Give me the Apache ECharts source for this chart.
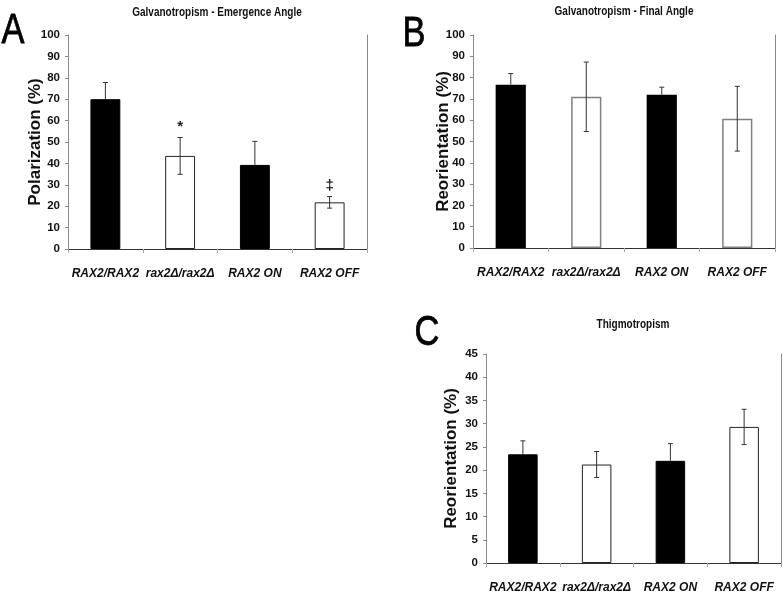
<!DOCTYPE html>
<html>
<head>
<meta charset="utf-8">
<script src="https://cdn.jsdelivr.net/npm/echarts@6/dist/echarts.min.js"></script>
<style>
html,body{margin:0;padding:0;background:#fff;}
#chart{width:783px;height:595px;}
</style>
</head>
<body>
<div id="chart"></div>
<script>
// ---- data ----
const categories = ['RAX2/RAX2', 'rax2\u0394/rax2\u0394', 'RAX2 ON', 'RAX2 OFF'];

const emergenceValues = [70, 43.5, 39.3, 21.8];
const emergenceErrors = [7.8, 8.6, 11, 2.7];
const emergenceMarks = ['', '*', '', '\u2021'];

const finalValues = [76.7, 71, 72, 60.7];
const finalErrors = [5.2, 16.3, 3.5, 15.2];

const thigmoValues = [23.4, 21.2, 22.0, 29.3];
const thigmoErrors = [2.9, 2.8, 3.7, 3.8];

const titles = ['Galvanotropism - Emergence Angle', 'Galvanotropism - Final Angle', 'Thigmotropism'];
const yNames = ['Polarization (%)', 'Reorientation (%)', 'Reorientation (%)'];
const panelLetters = ['A', 'B', 'C'];
const yMax = [100, 100, 45];
const yStep = [10, 10, 5];

// ---- styling ----
const SANS = '"Liberation Sans", Arial, sans-serif';
const barFill = ['#000', '#fff', '#000', '#fff'];

const grids = [
  {left: 68, top: 35, width: 299, height: 214},
  {left: 473, top: 35, width: 302, height: 213},
  {left: 486, top: 354, width: 295, height: 209}
];
const nameGaps = [24, 21, 26];
const whiteBorder = ['#222', '#808080', '#222'];

const chart = echarts.init(document.getElementById('chart'));

const xAxis = [], yAxis = [], series = [];
const panels = [
  {values: emergenceValues, errors: emergenceErrors, marks: emergenceMarks},
  {values: finalValues, errors: finalErrors, marks: null},
  {values: thigmoValues, errors: thigmoErrors, marks: null}
];

panels.forEach((p, k) => {
  xAxis.push({
    type: 'category', gridIndex: k, data: categories,
    axisLine: {lineStyle: {color: '#333', width: 1}},
    axisTick: {show: true, length: 4, lineStyle: {color: '#aaa'}},
    axisLabel: {
      margin: 19, color: '#111', fontFamily: SANS, fontSize: 12,
      fontWeight: 'bold', fontStyle: 'italic', interval: 0
    },
    splitLine: {show: true, interval: (i) => i === 2, lineStyle: {color: '#8a8a8a', width: 1}}
  });
  yAxis.push({
    type: 'value', gridIndex: k, min: 0, max: yMax[k], interval: yStep[k],
    name: yNames[k], nameLocation: 'middle', nameGap: nameGaps[k], nameRotate: 90,
    nameMoveOverlap: false,
    nameTextStyle: {fontFamily: SANS, fontSize: 17, fontWeight: 'bold', color: '#111'},
    axisLine: {show: true, lineStyle: {color: '#8a8a8a'}},
    axisTick: {show: true, length: 3, lineStyle: {color: '#8a8a8a'}},
    axisLabel: {margin: 8, fontFamily: SANS, fontSize: 11.5, fontWeight: 'bold', color: '#111'},
    splitLine: {show: false}
  });
  yAxis.push({
    type: 'value', gridIndex: k, min: 0, max: yMax[k], position: 'right',
    axisLine: {show: true, lineStyle: {color: '#8a8a8a'}},
    axisTick: {show: false}, axisLabel: {show: false}, splitLine: {show: false}
  });

  series.push({
    type: 'bar', xAxisIndex: k, yAxisIndex: 2 * k, barWidth: '40%',
    data: p.values.map((v, i) => ({
      value: v,
      itemStyle: {color: barFill[i], borderColor: barFill[i] === '#000' ? '#000' : whiteBorder[k], borderWidth: k === 1 ? 1.5 : 1}
    })),
    animation: false
  });

  series.push({
    type: 'custom', xAxisIndex: k, yAxisIndex: 2 * k,
    data: p.values.map((v, i) => [i, v, p.errors[i]]),
    renderItem: (params, api) => {
      const idx = params.dataIndex;
      const i = api.value(0), v = api.value(1), e = api.value(2);
      const top = api.coord([i, v + e]);
      const solid = barFill[idx] === '#000';
      const bot = api.coord([i, solid ? v : v - e]);
      const hw = 2.5;
      const st = {stroke: '#333', lineWidth: 1};
      const children = [
        {type: 'line', shape: {x1: top[0], y1: top[1], x2: bot[0], y2: bot[1]}, style: st},
        {type: 'line', shape: {x1: top[0] - hw, y1: top[1], x2: top[0] + hw, y2: top[1]}, style: st}
      ];
      if (!solid) {
        children.push({type: 'line', shape: {x1: bot[0] - hw, y1: bot[1], x2: bot[0] + hw, y2: bot[1]}, style: st});
      }
      const mark = p.marks ? p.marks[idx] : '';
      if (mark) {
        children.push({
          type: 'text',
          style: {
            text: mark, x: top[0], y: top[1] - 3,
            align: 'center', verticalAlign: 'bottom',
            font: 'bold 15px ' + SANS, fill: '#222'
          }
        });
      }
      return {type: 'group', children};
    },
    animation: false,
    z: 3
  });
});

const graphics = [];
const titlePos = [[217, 13], [624, 12], [633, 325]];
const letterPos = [[13, 31], [414, 34], [427, 333]];
titles.forEach((t, k) => {
  graphics.push({
    type: 'text', x: titlePos[k][0], y: titlePos[k][1], scaleX: 0.8,
    style: {text: t, align: 'center', verticalAlign: 'middle', textAlign: 'center', textVerticalAlign: 'middle',
      font: 'bold 12.5px ' + SANS, fill: '#111'}
  });
  graphics.push({
    type: 'text', x: letterPos[k][0], y: letterPos[k][1], scaleX: 0.8,
    style: {text: panelLetters[k], align: 'center', verticalAlign: 'middle', textAlign: 'center', textVerticalAlign: 'middle',
      font: '43px ' + SANS, fill: '#000', stroke: '#000', lineWidth: 0.8}
  });
});

chart.setOption({
  backgroundColor: '#fff',
  animation: false,
  grid: grids,
  xAxis, yAxis, series,
  graphic: graphics
});
</script>
</body>
</html>
